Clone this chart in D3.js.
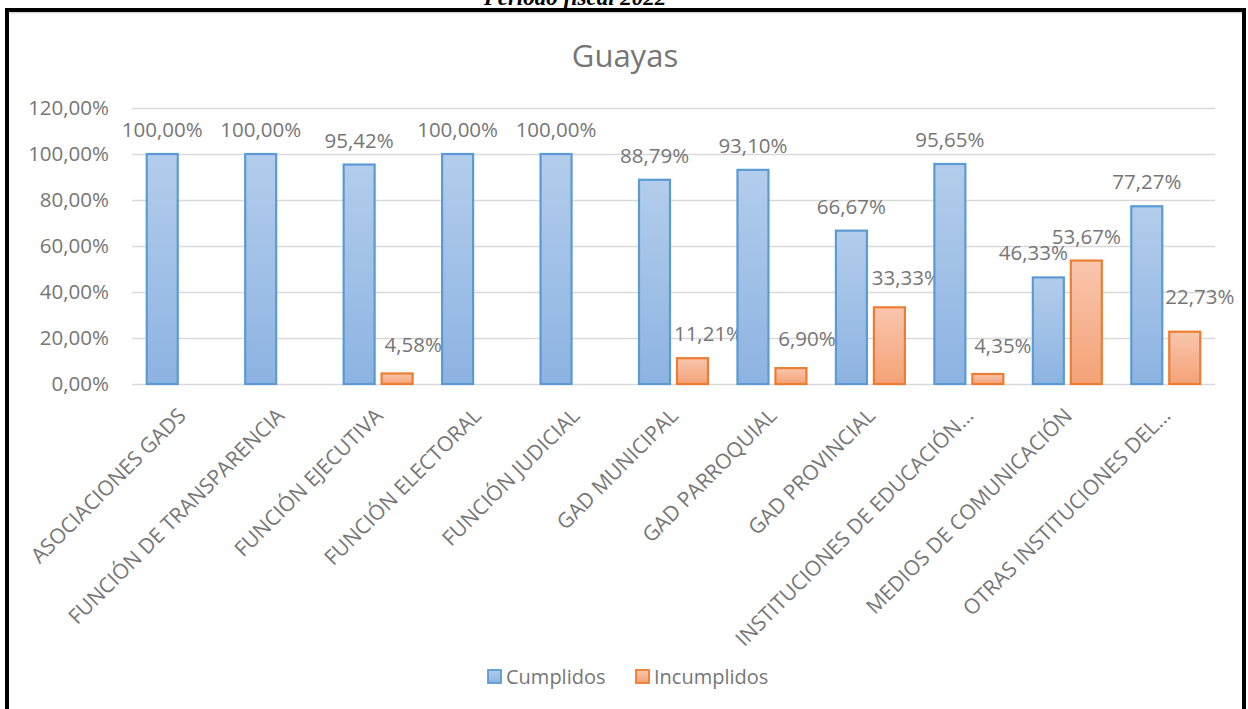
<!DOCTYPE html>
<html>
<head>
<meta charset="utf-8">
<script src="https://cdn.jsdelivr.net/npm/d3@7"></script>
<style>
  body { margin: 0; background: #fff; }
  text { font-family: "Open Sans", sans-serif; }
</style>
</head>
<body>
<div id="chart"></div>
<script>
const categorias = [
    'ASOCIACIONES GADS',
    'FUNCIÓN DE TRANSPARENCIA',
    'FUNCIÓN EJECUTIVA',
    'FUNCIÓN ELECTORAL',
    'FUNCIÓN JUDICIAL',
    'GAD MUNICIPAL',
    'GAD PARROQUIAL',
    'GAD PROVINCIAL',
    'INSTITUCIONES DE EDUCACIÓN…',
    'MEDIOS DE COMUNICACIÓN',
    'OTRAS INSTITUCIONES DEL…'
]
const cumplidos = [100, 100, 95.42, 100, 100, 88.79, 93.10, 66.67, 95.65, 46.33, 77.27]
const incumplidos = [null, null, 4.58, null, null, 11.21, 6.90, 33.33, 4.35, 53.67, 22.73]
const series = ['Cumplidos', 'Incumplidos']
const yTicks = [0, 20, 40, 60, 80, 100, 120]

const width = 1248
const height = 709
const margin = { top: 108, right: 33, bottom: 325, left: 132 }
const gray = '#767676'

const fmt = v => v.toFixed(2).replace('.', ',') + '%'

const svg = d3.select('#chart')
    .append('svg')
    .attr('width', width)
    .attr('height', height)

const defs = svg.append('defs')
const grads = [
    { id: 'gBlue', top: '#b3cdeb', bottom: '#8db3e2' },
    { id: 'gOrange', top: '#f9c6ae', bottom: '#f4a277' }
]
grads.forEach(g => {
    const lg = defs.append('linearGradient')
        .attr('id', g.id)
        .attr('x1', 0).attr('y1', 0).attr('x2', 0).attr('y2', 1)
    lg.append('stop').attr('offset', '0%').attr('stop-color', g.top)
    lg.append('stop').attr('offset', '100%').attr('stop-color', g.bottom)
})
const fills = ['url(#gBlue)', 'url(#gOrange)']
const strokes = ['#5b9bd5', '#ed7d31']

// texto de encabezado (cortado arriba en el original)
svg.append('text')
    .attr('x', 575)
    .attr('y', 5)
    .attr('text-anchor', 'middle')
    .style('font-family', '"Liberation Serif", serif')
    .style('font-size', '23px')
    .style('font-weight', 'bold')
    .style('font-style', 'italic')
    .text('Periodo fiscal 2022')

// marco
svg.append('line')
    .attr('x1', 9).attr('x2', 1242)
    .attr('y1', 12.8).attr('y2', 12.8)
    .attr('stroke', '#d9d9d9')
    .attr('stroke-width', 1.5)
svg.append('rect')
    .attr('x', 7).attr('y', 10)
    .attr('width', 1237).attr('height', 800)
    .attr('fill', 'none')
    .attr('stroke', '#000')
    .attr('stroke-width', 4)

svg.append('text')
    .attr('x', 625)
    .attr('y', 67)
    .attr('text-anchor', 'middle')
    .attr('fill', gray)
    .style('font-size', '31px')
    .text('Guayas')

const x = d3.scaleBand()
    .domain(categorias)
    .range([margin.left, width - margin.right])
const xSub = d3.scaleBand()
    .domain(series)
    .range([0, x.bandwidth()])
    .paddingInner(0.184)
    .paddingOuter(0.388)
const y = d3.scaleLinear()
    .domain([0, 120])
    .range([height - margin.bottom, margin.top])

// rejilla
svg.append('g')
    .attr('transform', `translate(${margin.left},0)`)
    .call(d3.axisLeft(y).tickValues(yTicks).tickSize(-(width - margin.left - margin.right)).tickFormat(''))
    .call(g => g.select('.domain').remove())
    .call(g => g.selectAll('line').attr('stroke', '#d9d9d9').attr('stroke-width', 1.5))

// eje y
svg.append('g')
    .attr('transform', `translate(${margin.left},0)`)
    .call(d3.axisLeft(y).tickValues(yTicks).tickSize(0).tickPadding(23).tickFormat(fmt))
    .call(g => g.select('.domain').remove())
    .call(g => g.selectAll('text')
        .attr('fill', gray)
        .style('font-family', '"Open Sans", sans-serif')
        .style('font-size', '20.5px'))

// eje x
svg.append('g')
    .attr('transform', `translate(0,${y(0)})`)
    .call(d3.axisBottom(x).tickSize(0))
    .call(g => g.select('.domain').remove())
    .call(g => g.selectAll('text')
        .attr('x', 0).attr('y', 0).attr('dy', 0)
        .attr('transform', 'translate(6,33) rotate(-45)')
        .attr('text-anchor', 'end')
        .attr('fill', gray)
        .style('font-family', '"Open Sans", sans-serif')
        .style('font-size', '21px'))

const rows = categorias.map((c, i) => ({ c, i, vals: [cumplidos[i], incumplidos[i]] }))

// ajustes manuales de etiquetas (como en el original)
const nudge = {
    '1-2': [16, -4], '1-5': [16, 0], '1-6': [16, -5], '1-7': [17, -5],
    '1-8': [15, -4], '1-10': [15, -11], '0-9': [-15, 0]
}

const groups = svg.append('g')
    .selectAll('g')
    .data(rows)
    .enter()
    .append('g')
    .attr('transform', d => `translate(${x(d.c)},0)`)

series.forEach((s, k) => {
    const items = groups.filter(d => d.vals[k] != null)
    items.append('rect')
        .attr('x', xSub(s))
        .attr('width', xSub.bandwidth())
        .attr('y', d => y(d.vals[k]))
        .attr('height', d => y(0) - y(d.vals[k]))
        .attr('fill', fills[k])
        .attr('stroke', strokes[k])
        .attr('stroke-width', 2.2)
    items.append('text')
        .attr('x', d => xSub(s) + xSub.bandwidth() / 2 + (nudge[k + '-' + d.i] || [0, 0])[0])
        .attr('y', d => y(d.vals[k]) - 17 + (nudge[k + '-' + d.i] || [0, 0])[1])
        .attr('text-anchor', 'middle')
        .attr('fill', gray)
        .style('font-size', '20.5px')
        .text(d => fmt(d.vals[k]))
})

// leyenda
const legend = svg.append('g')
const legX = [488, 636]
series.forEach((s, k) => {
    legend.append('rect')
        .attr('x', legX[k]).attr('y', 670)
        .attr('width', 13).attr('height', 13)
        .attr('fill', fills[k])
        .attr('stroke', strokes[k])
        .attr('stroke-width', 1.8)
    legend.append('text')
        .attr('x', legX[k] + 18).attr('y', 684)
        .attr('fill', gray)
        .style('font-size', '20px')
        .text(s)
})
</script>
</body>
</html>
